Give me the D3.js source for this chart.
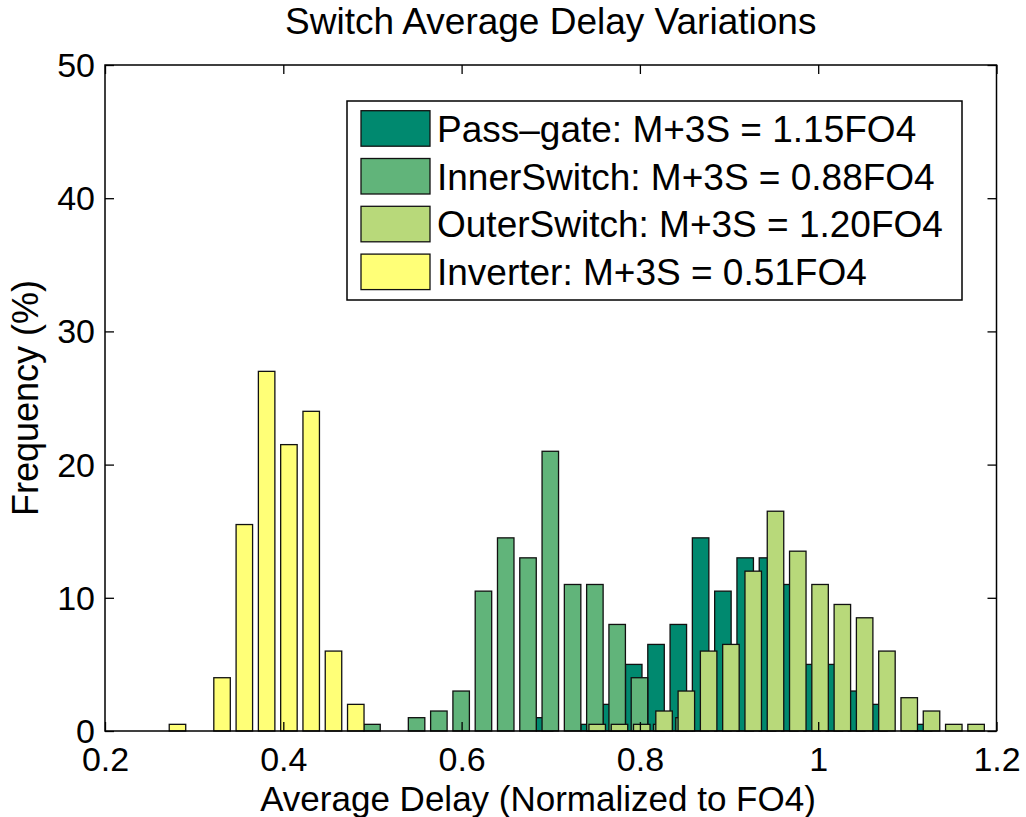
<!DOCTYPE html>
<html>
<head>
<meta charset="utf-8">
<script src="https://cdn.jsdelivr.net/npm/d3@7/dist/d3.min.js"></script>
<style>
  body { margin: 0; background: #fff; }
  text { font-family: "Liberation Sans", Arial, Helvetica, sans-serif; fill: #000; }
</style>
</head>
<body>
<script>
'use strict';

// histogram bin centres and frequencies (%) for each switch type
var passGateCenters = [0.6931, 0.7181, 0.7431, 0.7681, 0.7931, 0.8181, 0.8431, 0.8681, 0.8931,
                       0.9181, 0.9431, 0.9681, 0.9931, 1.0181, 1.0431, 1.0681, 1.0931, 1.1181];
var passGateFreq    = [1, 0, 0.5, 2, 5, 6.5, 8, 14.5, 10.5, 13, 13, 11, 5, 5, 3, 2, 0, 0.5];

var innerCenters = [0.4995, 0.5245, 0.5495, 0.5745, 0.5995, 0.6245, 0.6495, 0.6745, 0.6995,
                    0.7245, 0.7495, 0.7745, 0.7995, 0.8245, 0.8495];
var innerFreq    = [0.5, 0, 1, 1.5, 3, 10.5, 14.5, 13, 21, 11, 11, 8, 4, 0.5, 1];

var outerCenters = [0.7521, 0.7771, 0.8021, 0.8271, 0.8521, 0.8771, 0.9021, 0.9271, 0.9521,
                    0.9771, 1.0021, 1.0271, 1.0521, 1.0771, 1.1021, 1.1271, 1.1521, 1.1771];
var outerFreq    = [0.5, 0.5, 0.5, 1.5, 3, 6, 6.5, 12, 16.5, 13.5, 11, 9.5, 8.5, 6, 2.5, 1.5, 0.5, 0.5];

var inverterCenters = [0.2813, 0.3063, 0.3313, 0.3563, 0.3813, 0.4063, 0.4313, 0.4563, 0.4813];
var inverterFreq    = [0.5, 0, 4, 15.5, 27, 21.5, 24, 6, 2];

var seriesNames  = ["Pass\u2013gate: M+3S = 1.15FO4", "InnerSwitch: M+3S = 0.88FO4",
                    "OuterSwitch: M+3S = 1.20FO4", "Inverter: M+3S = 0.51FO4"];
var seriesColors = ["#00896f", "#61b47a", "#b8d97a", "#ffff77"];

var xTicks = [0.2, 0.4, 0.6, 0.8, 1.0, 1.2];
var yTicks = [0, 10, 20, 30, 40, 50];

var series = [
  { centers: passGateCenters, freq: passGateFreq },
  { centers: innerCenters,    freq: innerFreq },
  { centers: outerCenters,    freq: outerFreq },
  { centers: inverterCenters, freq: inverterFreq }
];

var width = 1026, height = 817;
var margin = { top: 65, right: 29.5, bottom: 86, left: 105 };
var plotW = width - margin.left - margin.right;
var plotH = height - margin.top - margin.bottom;
var barW = 0.0185;

var svg = d3.select("body").append("svg")
  .attr("width", width)
  .attr("height", height);

var x = d3.scaleLinear().domain([0.2, 1.2]).range([0, plotW]);
var y = d3.scaleLinear().domain([0, 50]).range([plotH, 0]);

var g = svg.append("g")
  .attr("transform", "translate(" + margin.left + "," + margin.top + ")");

// bars, one histogram after another so later ones sit on top
series.forEach(function(s, i) {
  var bins = s.centers.map(function(c, k) { return { c: c, v: s.freq[k] }; })
    .filter(function(d) { return d.v > 0; });
  g.append("g").selectAll("rect")
    .data(bins)
    .enter()
    .append("rect")
    .attr("x", function(d) { return x(d.c - barW / 2); })
    .attr("width", function(d) { return x(d.c + barW / 2) - x(d.c - barW / 2); })
    .attr("y", function(d) { return y(d.v); })
    .attr("height", function(d) { return y(0) - y(d.v); })
    .style("fill", seriesColors[i])
    .style("stroke", "#111")
    .style("stroke-width", 1.3);
});

// axes with inward ticks on all four sides
var tickLen = 9;
var fontTick = "34px";

var xBottom = g.append("g").attr("transform", "translate(0," + plotH + ")")
  .call(d3.axisBottom(x).tickValues(xTicks).tickSize(-tickLen).tickPadding(16)
        .tickFormat(function(d) { return d3.format(".1f")(d).replace(/\.0$/, ""); }));
var xTop = g.append("g")
  .call(d3.axisTop(x).tickValues(xTicks).tickSize(-tickLen).tickFormat(""));
var yLeft = g.append("g")
  .call(d3.axisLeft(y).tickValues(yTicks).tickSize(-tickLen).tickPadding(10));
var yRight = g.append("g").attr("transform", "translate(" + plotW + ",0)")
  .call(d3.axisRight(y).tickValues(yTicks).tickSize(-tickLen).tickFormat(""));

[xBottom, xTop, yLeft, yRight].forEach(function(a) {
  a.select(".domain").remove();
  a.selectAll("line").style("stroke", "#000").style("stroke-width", 1.3);
  a.selectAll("text").style("font-size", fontTick)
    .style("font-family", '"Liberation Sans", Arial, sans-serif').attr("fill", "#000");
});
xBottom.selectAll("text").attr("dy", "0.71em");
yLeft.selectAll("text").attr("dy", "0.34em");

// box around the plot
g.append("rect")
  .attr("width", plotW).attr("height", plotH)
  .style("fill", "none").style("stroke", "#000").style("stroke-width", 1.5);

// title and axis labels
svg.append("text")
  .attr("x", margin.left + plotW / 2).attr("y", 34)
  .attr("text-anchor", "middle").style("font-size", "37px")
  .text("Switch Average Delay Variations");

svg.append("text")
  .attr("x", 538).attr("y", 811)
  .attr("text-anchor", "middle").style("font-size", "35px")
  .text("Average Delay (Normalized to FO4)");

svg.append("text")
  .attr("transform", "translate(38," + (margin.top + plotH / 2) + ") rotate(-90)")
  .attr("text-anchor", "middle").style("font-size", "36px")
  .text("Frequency (%)");

// legend
var legend = svg.append("g").attr("transform", "translate(347,101)");
legend.append("rect")
  .attr("width", 615).attr("height", 199)
  .style("fill", "#fff").style("stroke", "#000").style("stroke-width", 1.5);

var rows = legend.selectAll("g.row")
  .data(seriesNames)
  .enter()
  .append("g")
  .attr("class", "row")
  .attr("transform", function(d, i) { return "translate(0," + (9.7 + i * 47.8) + ")"; });

rows.append("rect")
  .attr("x", 14).attr("width", 69).attr("height", 35.5)
  .style("fill", function(d, i) { return seriesColors[i]; })
  .style("stroke", "#111").style("stroke-width", 1.3);

rows.append("text")
  .attr("x", 90).attr("y", 31)
  .style("font-size", "37px")
  .text(function(d) { return d; });
</script>
</body>
</html>
